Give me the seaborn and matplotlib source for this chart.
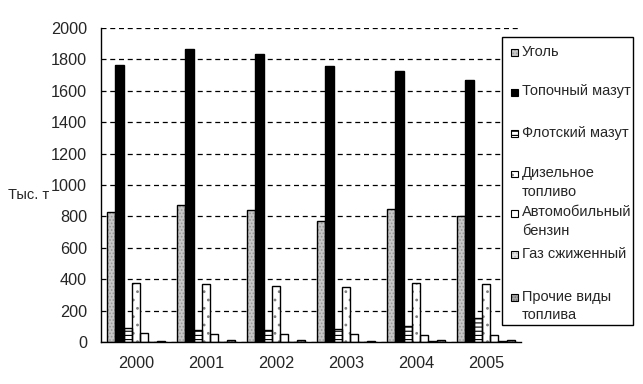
import numpy as np
import pandas as pd
import matplotlib
matplotlib.use('Agg')
import matplotlib.pyplot as plt
import seaborn as sns
from matplotlib.patches import Rectangle

# Данные (тыс. т)
years = ['2000', '2001', '2002', '2003', '2004', '2005']
fuels = ['Уголь', 'Топочный мазут', 'Флотский мазут', 'Дизельное\nтопливо',
         'Автомобильный\nбензин', 'Газ сжиженный', 'Прочие виды\nтоплива']
coal = [830, 870, 840, 770, 845, 800]
fuel_oil = [1765, 1865, 1835, 1760, 1725, 1670]
navy_oil = [90, 75, 75, 85, 100, 150]
diesel = [375, 370, 355, 350, 375, 370]
petrol = [55, 50, 50, 50, 45, 45]
lpg = [0, 0, 0, 0, 5, 5]
other = [5, 13, 13, 5, 13, 13]
y_ticks = [0, 200, 400, 600, 800, 1000, 1200, 1400, 1600, 1800, 2000]

series = [coal, fuel_oil, navy_oil, diesel, petrol, lpg, other]
df = pd.DataFrame({
    'year': np.tile(years, len(fuels)),
    'fuel': np.repeat(fuels, len(years)),
    'value': np.concatenate(series),
})

# стиль: заливка, штриховка, цвет штриховки
styles = [
    ('#c8c8c8', '.....', '#9a9a9a'),
    ('#000000', None, '#000000'),
    ('#ffffff', '----', '#000000'),
    ('#ffffff', '..', '#808080'),
    ('#ffffff', None, '#ffffff'),
    ('#e4e4e4', '.....', '#b8b8b8'),
    ('#a8a8a8', '......', '#707070'),
]

W, H = 643, 384
sns.set_style('white')
plt.rcParams['font.family'] = ['Liberation Sans', 'DejaVu Sans']
plt.rcParams['hatch.linewidth'] = 0.8

fig = plt.figure(figsize=(W / 100, H / 100), dpi=100)
ax = fig.add_axes([101 / W, 1 - 342 / H, 420 / W, 314 / H])

sns.barplot(data=df, x='year', y='value', hue='fuel', hue_order=fuels,
            order=years, width=0.83, palette=[s[0] for s in styles],
            saturation=1, legend=False, ax=ax, zorder=2)

for cont, (fc, hatch, hc) in zip(ax.containers, styles):
    for bar in cont:
        bar.set_facecolor(fc)
        bar.set_edgecolor(hc)
        bar.set_linewidth(0)
        bar.set_hatch(hatch)
        ax.add_patch(Rectangle(bar.get_xy(), bar.get_width(), bar.get_height(),
                               fill=False, ec='black', lw=1, zorder=3))

ax.set_xlim(-0.5, len(years) - 0.5)
ax.set_ylim(0, 2000)
ax.set_yticks(y_ticks)
ax.yaxis.grid(True, linestyle=(0, (4, 3)), color='black', lw=0.9, zorder=0)
ax.set_axisbelow(True)
ax.set_xticks(np.arange(len(years)))
ax.set_xticklabels(years)
ax.set_xticks(np.arange(len(years) + 1) - 0.5, minor=True)
ax.tick_params(axis='x', which='major', length=0, pad=10, labelsize=11.7)
ax.tick_params(axis='x', which='minor', length=5, width=1, color='black', direction='out')
ax.tick_params(axis='y', length=5, width=1, color='black', direction='out', pad=5, labelsize=11.7)
ax.set_xlabel('')
ax.set_ylabel('')
for s in ['top', 'right']:
    ax.spines[s].set_visible(False)
for s in ['left', 'bottom']:
    ax.spines[s].set_color('black')
    ax.spines[s].set_linewidth(1)

fig.text(8 / W, 1 - 195 / H, 'Тыс. т', ha='left', va='center', fontsize=10.5)

# легенда в стиле Excel
fig.add_artist(Rectangle((502 / W, 1 - 325 / H), 131 / W, 288 / H, transform=fig.transFigure,
                         fc='white', ec='black', lw=1, zorder=5))
first_line = [52, 92, 133, 174, 213, 254, 297]
for name, (fc, hatch, hc), yc in zip(fuels, styles, first_line):
    fig.add_artist(Rectangle((511 / W, 1 - (yc + 3.5) / H), 7 / W, 7 / H,
                             transform=fig.transFigure, fc=fc, ec=hc, lw=0,
                             hatch=hatch, zorder=6))
    fig.add_artist(Rectangle((511 / W, 1 - (yc + 3.5) / H), 7 / W, 7 / H,
                             transform=fig.transFigure, fill=False, ec='black',
                             lw=0.8, zorder=7))
    fig.text(522 / W, 1 - (yc - 7.5) / H, name, ha='left', va='top',
             fontsize=10.5, linespacing=1.42, zorder=7)

fig.savefig('out.png', dpi=100, facecolor='white')
